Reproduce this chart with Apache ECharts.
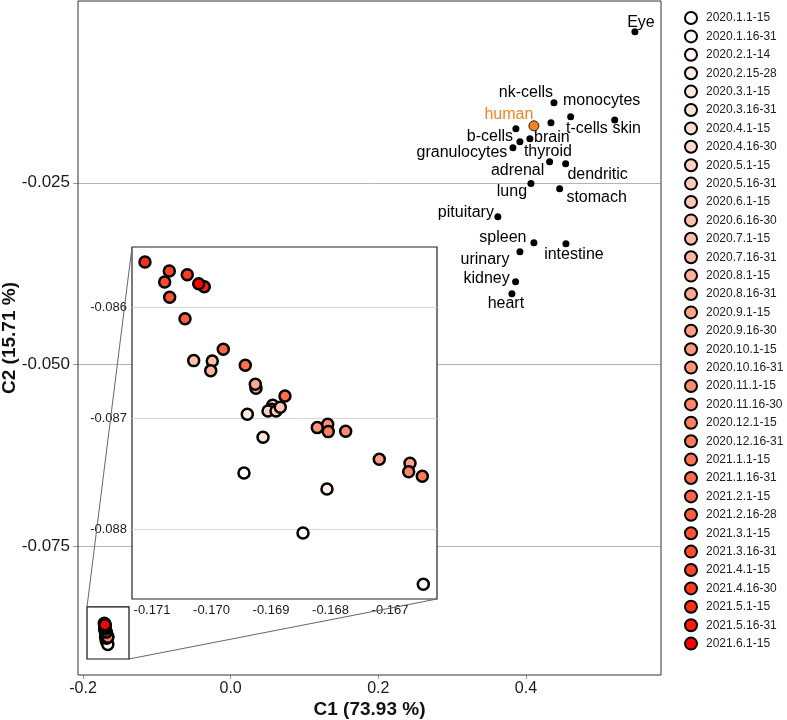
<!DOCTYPE html>
<html>
<head>
<meta charset="utf-8">
<script src="https://cdn.jsdelivr.net/npm/echarts@6/dist/echarts.min.js"></script>
<style>
html,body{margin:0;padding:0;background:#fff;}
#chart{width:787px;height:720px;}
</style>
</head>
<body>
<div id="chart"></div>
<script>
// ---------------- DATA ----------------
const periods = ['2020.1.1-15','2020.1.16-31','2020.2.1-14','2020.2.15-28','2020.3.1-15','2020.3.16-31',
  '2020.4.1-15','2020.4.16-30','2020.5.1-15','2020.5.16-31','2020.6.1-15','2020.6.16-30',
  '2020.7.1-15','2020.7.16-31','2020.8.1-15','2020.8.16-31','2020.9.1-15','2020.9.16-30',
  '2020.10.1-15','2020.10.16-31','2020.11.1-15','2020.11.16-30','2020.12.1-15','2020.12.16-31',
  '2021.1.1-15','2021.1.16-31','2021.2.1-15','2021.2.16-28','2021.3.1-15','2021.3.16-31',
  '2021.4.1-15','2021.4.16-30','2021.5.1-15','2021.5.16-31','2021.6.1-15'];
const periodC1 = [-0.169454,-0.168462,-0.166440,-0.168059,-0.169398,-0.169134,-0.168971,-0.168988,-0.169050,
  -0.168916,-0.168844,-0.170299,-0.169987,-0.170013,-0.169252,-0.169264,-0.166664,-0.167180,-0.168222,
  -0.168047,-0.167745,-0.166686,-0.168037,-0.166457,-0.169432,-0.168765,-0.169802,-0.170445,-0.170703,
  -0.170787,-0.170709,-0.170407,-0.171118,-0.170121,-0.170215];
const periodC2 = [-0.087491,-0.088031,-0.088491,-0.087635,-0.086964,-0.087171,-0.086883,-0.086919,-0.086934,
  -0.086934,-0.086901,-0.086482,-0.086485,-0.086572,-0.086730,-0.086695,-0.087404,-0.087368,-0.087084,
  -0.087054,-0.087117,-0.087480,-0.087120,-0.087521,-0.086524,-0.086800,-0.086380,-0.086105,-0.085913,
  -0.085775,-0.085677,-0.085710,-0.085596,-0.085818,-0.085791];

const tissueNames = ['Eye','nk-cells','monocytes','t-cells','skin','b-cells','brain','thyroid','granulocytes',
  'adrenal','dendritic','lung','stomach','pituitary','spleen','intestine','urinary','kidney','heart'];
const tissueC1 = [0.5477,0.4380,0.4606,0.4339,0.5203,0.3864,0.4054,0.3919,0.3824,
  0.4321,0.4538,0.4068,0.4457,0.3620,0.4108,0.4542,0.3919,0.3860,0.3810];
const tissueC2 = [-0.00422,-0.01401,-0.01593,-0.01676,-0.01635,-0.01758,-0.01896,-0.01937,-0.02019,
  -0.02212,-0.02239,-0.02510,-0.02582,-0.02967,-0.03324,-0.03338,-0.03448,-0.03860,-0.04025];
const humanName = ['human'];
const humanC1 = [0.4108];
const humanC2 = [-0.01717];

const mainXTicks = [-0.2, 0.0, 0.2, 0.4];
const mainYTicks = [-0.075, -0.050, -0.025];
const insetXTicks = [-0.171, -0.170, -0.169, -0.168, -0.167];
const insetYTicks = [-0.088, -0.087, -0.086];

const xTitle = 'C1 (73.93 %)';
const yTitle = 'C2 (15.71 %)';

// zoom region drawn on the main panel (data units)
const zoomBoxC1 = [-0.1946, -0.1377];
const zoomBoxC2 = [-0.0905, -0.08334];
// ---------------- STYLE ----------------
const FONT = '"Liberation Sans", Arial, Helvetica, sans-serif';
// label offsets (pixels) of the tissue names relative to their dot
const tissueLabelOffset = [[6,-9],[-28,-10],[31,-16],[36,6],[12,9],[-26,8],[22,-1],[28,10],[-51,5],
  [-32,9],[32,11],[-19,8],[37,9],[-32,-4],[-31,-5],[8,11],[-35,8],[-29,-3],[-6,10]];
const humanLabelOffset = [-25,-11];

// white -> red gradient interpolated in CIE Lab (as ggplot does)
function toLin(c){c/=255;return c<=0.04045?c/12.92:Math.pow((c+0.055)/1.055,2.4);}
function toS(c){c=c<=0.0031308?12.92*c:1.055*Math.pow(c,1/2.4)-0.055;return Math.round(Math.max(0,Math.min(1,c))*255);}
const Xn=0.95047,Yn=1,Zn=1.08883;
function f(t){return t>0.008856?Math.cbrt(t):7.787*t+16/116;}
function finv(t){const t3=t*t*t;return t3>0.008856?t3:(t-16/116)/7.787;}
function rgb2lab(r,g,b){r=toLin(r);g=toLin(g);b=toLin(b);
  const X=0.4124*r+0.3576*g+0.1805*b,Y=0.2126*r+0.7152*g+0.0722*b,Z=0.0193*r+0.1192*g+0.9505*b;
  const fx=f(X/Xn),fy=f(Y/Yn),fz=f(Z/Zn);return [116*fy-16,500*(fx-fy),200*(fy-fz)];}
function lab2hex(L,a,b){const fy=(L+16)/116,fx=fy+a/500,fz=fy-b/200;
  const X=Xn*finv(fx),Y=Yn*finv(fy),Z=Zn*finv(fz);
  const r=3.2406*X-1.5372*Y-0.4986*Z,g=-0.9689*X+1.8758*Y+0.0415*Z,bb=0.0557*X-0.2040*Y+1.0570*Z;
  return '#'+[toS(r),toS(g),toS(bb)].map(v=>v.toString(16).padStart(2,'0')).join('');}
const labW=rgb2lab(255,255,255), labR=rgb2lab(255,0,0);
const n=periods.length;
const periodColors=periods.map((p,i)=>{const t=i/(n-1);
  return lab2hex(labW[0]+(labR[0]-labW[0])*t,labW[1]+(labR[1]-labW[1])*t,labW[2]+(labR[2]-labW[2])*t);});

// ---------------- CHART ----------------
const chart = echarts.init(document.getElementById('chart'), null, {renderer:'canvas'});

const MAIN = {xmin:-0.2068, xmax:0.5830, ymin:-0.0927, ymax:0.0};
const INSET = {xmin:-0.171336, xmax:-0.166210, ymin:-0.088624, ymax:-0.085461};

const series = [];
// main panel: period cluster
periods.forEach((p,i)=>{
  series.push({name:p,type:'scatter',xAxisIndex:0,yAxisIndex:0,z:2,
    symbol:'circle',symbolSize:11,
    itemStyle:{color:periodColors[i],borderColor:'#000',borderWidth:2.5,opacity:1},
    emphasis:{disabled:true},
    data:[[periodC1[i],periodC2[i]]]});
});
// tissues
series.push({name:'tissues',type:'scatter',xAxisIndex:0,yAxisIndex:0,z:3,symbol:'circle',symbolSize:7,
  itemStyle:{color:'#000',opacity:1},emphasis:{disabled:true},
  data:tissueNames.map((nm,i)=>({name:nm,value:[tissueC1[i],tissueC2[i]],
    label:{show:true,position:'inside',offset:tissueLabelOffset[i],formatter:nm,
      color:'#000',fontSize:16,fontFamily:FONT,textBorderWidth:0,opacity:1}}))});
series.push({name:'human',type:'scatter',xAxisIndex:0,yAxisIndex:0,z:3,symbol:'circle',symbolSize:10,
  itemStyle:{color:'#f5821f',borderColor:'#222',borderWidth:1,opacity:1},emphasis:{disabled:true},
  data:humanName.map((nm,i)=>({name:nm,value:[humanC1[i],humanC2[i]],
    label:{show:true,position:'inside',offset:humanLabelOffset,formatter:nm,
      color:'#f5821f',fontSize:16,fontFamily:FONT,textBorderWidth:0,opacity:1}}))});
// inset panel
periods.forEach((p,i)=>{
  series.push({name:p,type:'scatter',xAxisIndex:1,yAxisIndex:1,z:6,
    symbol:'circle',symbolSize:11,
    itemStyle:{color:periodColors[i],borderColor:'#000',borderWidth:2.5,opacity:1},
    emphasis:{disabled:true},
    data:[[periodC1[i],periodC2[i]]]});
});

const option = {
  animation:false,
  backgroundColor:'#fff',
  textStyle:{fontFamily:FONT},
  grid:[
    {left:78,top:1,width:583,height:674,show:true,borderColor:'#333',borderWidth:1,
      backgroundColor:'transparent',containLabel:false,outerBoundsMode:'none',z:2},
    {left:132,top:247,width:305,height:352,show:true,borderColor:'#222',borderWidth:1.2,
      backgroundColor:'#fff',containLabel:false,outerBoundsMode:'none',z:4}
  ],
  xAxis:[
    {type:'value',gridIndex:0,position:'bottom',min:MAIN.xmin,max:MAIN.xmax,
      name:xTitle,nameLocation:'middle',nameGap:25,nameMoveOverlap:false,
      nameTextStyle:{fontSize:19,fontWeight:'bold',color:'#111',fontFamily:FONT},
      axisLine:{show:false,onZero:false},
      axisTick:{show:true,inside:false,customValues:mainXTicks,length:4,lineStyle:{color:'#999'}},
      axisLabel:{show:true,customValues:mainXTicks,margin:6,fontSize:16,color:'#1a1a1a',fontFamily:FONT,
        formatter:v=>Number(v).toFixed(1)},
      splitLine:{show:false},minorSplitLine:{show:false},minorTick:{show:false}},
    {type:'value',gridIndex:1,min:INSET.xmin,max:INSET.xmax,z:5,
      axisLine:{show:false,onZero:false},
      axisTick:{show:false,customValues:insetXTicks},
      axisLabel:{show:true,customValues:insetXTicks,margin:5,fontSize:13,color:'#1a1a1a',fontFamily:FONT,
        formatter:v=>Number(v).toFixed(3)},
      splitLine:{show:false}}
  ],
  yAxis:[
    {type:'value',gridIndex:0,position:'left',min:MAIN.ymin,max:MAIN.ymax,
      name:yTitle,nameLocation:'middle',nameGap:59,nameRotate:90,nameMoveOverlap:false,
      nameTextStyle:{fontSize:19,fontWeight:'bold',color:'#111',fontFamily:FONT},
      axisLine:{show:false,onZero:false},
      axisTick:{show:true,inside:false,customValues:mainYTicks,length:5,lineStyle:{color:'#999'}},
      axisLabel:{show:true,customValues:mainYTicks,margin:8,fontSize:17,color:'#1a1a1a',fontFamily:FONT,
        formatter:v=>Number(v).toFixed(3)},
      splitLine:{show:true,lineStyle:{color:'#b5b5b5',width:1}}},
    {type:'value',gridIndex:1,min:INSET.ymin,max:INSET.ymax,z:5,
      axisLine:{show:false,onZero:false},
      axisTick:{show:false,customValues:insetYTicks},
      axisLabel:{show:true,customValues:insetYTicks,margin:5,fontSize:13,color:'#1a1a1a',fontFamily:FONT,
        formatter:v=>Number(v).toFixed(3)},
      splitLine:{show:true,lineStyle:{color:'#d6d6d6',width:1}}}
  ],
  legend:{
    orient:'vertical',left:679,top:6,itemWidth:12,itemHeight:12,itemGap:4.4,
    icon:'circle',selectedMode:false,
    itemStyle:{borderColor:'#000',borderWidth:2},
    textStyle:{fontSize:12,color:'#222',fontFamily:FONT,padding:[0,0,0,4]},
    data:periods
  },
  series:series
};
chart.setOption(option);

// zoom box on main panel and connector lines to the inset
const tl = chart.convertToPixel({gridIndex:0},[zoomBoxC1[0],zoomBoxC2[1]]);
const br = chart.convertToPixel({gridIndex:0},[zoomBoxC1[1],zoomBoxC2[0]]);
const itl = chart.convertToPixel({gridIndex:1},[INSET.xmin,INSET.ymax]);
const ibr = chart.convertToPixel({gridIndex:1},[INSET.xmax,INSET.ymin]);
chart.setOption({graphic:[
  {type:'rect',z:10,shape:{x:tl[0],y:tl[1],width:br[0]-tl[0],height:br[1]-tl[1]},
    style:{fill:null,stroke:'#111',lineWidth:1.2}},
  {type:'line',z:10,shape:{x1:tl[0],y1:tl[1],x2:itl[0],y2:itl[1]},style:{stroke:'#666',lineWidth:1}},
  {type:'line',z:10,shape:{x1:br[0],y1:br[1],x2:ibr[0],y2:ibr[1]},style:{stroke:'#666',lineWidth:1}}
]});
</script>
</body>
</html>
